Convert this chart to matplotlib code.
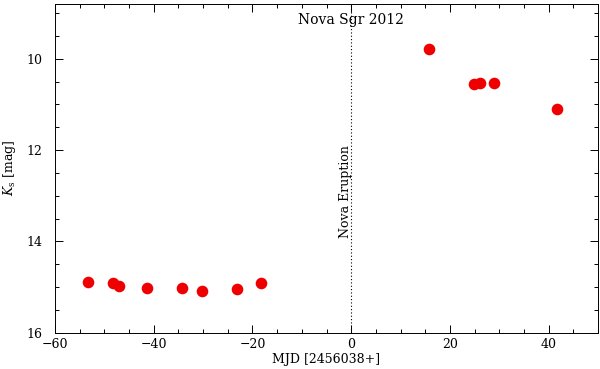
import matplotlib.pyplot as plt
from matplotlib.ticker import MultipleLocator

# days relative to MJD 2456038 and Ks magnitudes
days = [-53.4, -48.3, -47.1, -41.3, -34.2, -30.3, -23.2, -18.2,
        15.8, 24.9, 26.1, 29.0, 41.7]
ks_mag = [14.90, 14.92, 14.98, 15.03, 15.01, 15.09, 15.04, 14.92,
          9.78, 10.55, 10.54, 10.53, 11.09]

plt.rcParams["font.family"] = "DejaVu Serif"
plt.rcParams["mathtext.fontset"] = "dejavuserif"

fig = plt.figure(figsize=(6.0, 3.69), dpi=100)
ax = fig.add_axes([55 / 600, 1 - 332.7 / 369, 543 / 600, 328.7 / 369])

ax.scatter(days, ks_mag, s=70, color="#ee0000", zorder=3, linewidths=0)
ax.axvline(0, color="black", linestyle=(0, (1, 2)), linewidth=0.8)

ax.text(-1.2, 12.9, "Nova Eruption", rotation=90, ha="center", va="center",
        fontsize=9)
ax.text(0, 9.15, "Nova Sgr 2012", ha="center", va="center", fontsize=10)

ax.set_xlim(-60, 50)
ax.set_ylim(16, 8.8)
ax.xaxis.set_major_locator(MultipleLocator(20))
ax.xaxis.set_minor_locator(MultipleLocator(5))
ax.yaxis.set_major_locator(MultipleLocator(2))
ax.yaxis.set_minor_locator(MultipleLocator(0.5))
ax.tick_params(which="both", direction="in", top=True, right=True,
               labelsize=9)
ax.tick_params(axis="x", which="major", pad=4)
ax.tick_params(axis="y", which="major", pad=9)
ax.tick_params(which="major", length=6, width=0.7)
ax.tick_params(which="minor", length=3, width=0.7)
for sp in ax.spines.values():
    sp.set_linewidth(0.7)

ax.set_xlabel("MJD [2456038+]", fontsize=9, labelpad=1)
ax.set_ylabel(r"$K_{\rm s}$ [mag]", fontsize=9, labelpad=6)

fig.savefig("out.png", dpi=100)
